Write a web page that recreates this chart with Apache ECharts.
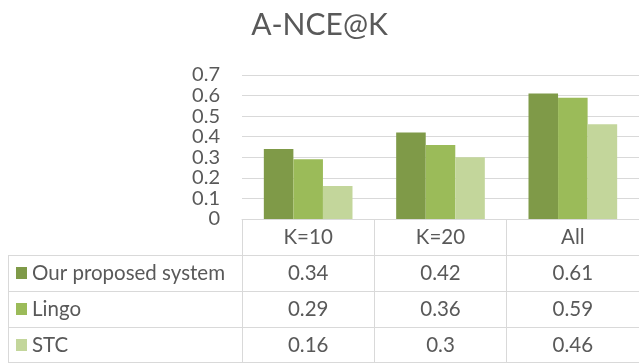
<!DOCTYPE html>
<html>
<head>
<meta charset="utf-8">
<script src="https://cdn.jsdelivr.net/npm/echarts@6/dist/echarts.min.js"></script>
<style>
  html, body { margin: 0; padding: 0; background: #fff; }
  #chart { width: 639px; height: 363px; }
</style>
</head>
<body>
<div id="chart"></div>
<script>
// A-NCE@K scores per cutoff for each system
const categories = ['K=10', 'K=20', 'All'];
const seriesNames = ['Our proposed system', 'Lingo', 'STC'];
const ourSystem = [0.34, 0.42, 0.61];
const lingo = [0.29, 0.36, 0.59];
const stc = [0.16, 0.3, 0.46];
const yTicks = { min: 0, max: 0.7, interval: 0.1 };

const seriesValues = [ourSystem, lingo, stc];
const colors = ['#7f9a48', '#9bbb59', '#c3d69b'];
const textColor = '#595959';
const lineColor = '#d9d9d9';
const font = 'Lato, "Open Sans", sans-serif';
const fs = 20.5;

// layout of the plot and of the data table beneath it
const plotLeft = 242, plotTop = 75, plotHeight = 144, plotWidth = 402;
const rowH = 36, tableLeft = 8;
const baseY = plotTop + plotHeight;

const chart = echarts.init(document.getElementById('chart'));

// one category axis per table row: the header row shows the categories,
// the others show each series' values as text
const xAxes = [categories].concat(seriesValues.map(v => v.map(String))).map((data, i) => ({
  type: 'category',
  data: data,
  position: 'bottom',
  offset: i * rowH,
  axisLine: { show: true, lineStyle: { color: lineColor, width: 1 } },
  axisTick: { show: true, interval: 0, length: rowH, lineStyle: { color: lineColor, width: 1 } },
  axisLabel: { interval: 0, margin: 8, fontSize: fs, color: textColor, fontFamily: font },
  splitLine: { show: false }
}));

// frame of the legend column of the table
const graphics = [];
for (let r = 1; r <= 4; r++) {
  const y = Math.min(baseY + r * rowH, 362) + 0.5;
  graphics.push({
    type: 'line',
    shape: { x1: tableLeft, y1: y, x2: r === 4 ? plotLeft + plotWidth : plotLeft, y2: y },
    style: { stroke: lineColor, lineWidth: 1 }
  });
}
graphics.push({
  type: 'line',
  shape: { x1: tableLeft + 0.5, y1: baseY + rowH, x2: tableLeft + 0.5, y2: 362 },
  style: { stroke: lineColor, lineWidth: 1 }
});

chart.setOption({
  animation: false,
  backgroundColor: '#ffffff',
  title: {
    text: 'A-NCE@K',
    left: 'center',
    top: 5,
    textStyle: { fontSize: 30, fontWeight: 'normal', color: textColor, fontFamily: font }
  },
  legend: {
    orient: 'vertical',
    left: 16,
    top: baseY + rowH + 7,
    padding: 0,
    itemWidth: 11,
    itemHeight: 12,
    itemGap: 14,
    icon: 'rect',
    textStyle: { fontSize: fs, lineHeight: 22, color: textColor, fontFamily: font },
    data: seriesNames
  },
  grid: { left: plotLeft, top: plotTop, width: plotWidth, height: plotHeight },
  xAxis: xAxes,
  yAxis: {
    type: 'value',
    min: yTicks.min,
    max: yTicks.max,
    interval: yTicks.interval,
    axisLine: { show: false },
    axisTick: { show: false },
    axisLabel: { margin: 22, fontSize: 20, color: textColor, fontFamily: font },
    splitLine: { lineStyle: { color: lineColor, width: 1 } }
  },
  series: seriesNames.map((name, i) => ({
    name: name,
    type: 'bar',
    xAxisIndex: 0,
    data: seriesValues[i],
    barGap: '0%',
    barCategoryGap: '33%',
    itemStyle: { color: colors[i] }
  })),
  graphic: graphics
});
</script>
</body>
</html>
